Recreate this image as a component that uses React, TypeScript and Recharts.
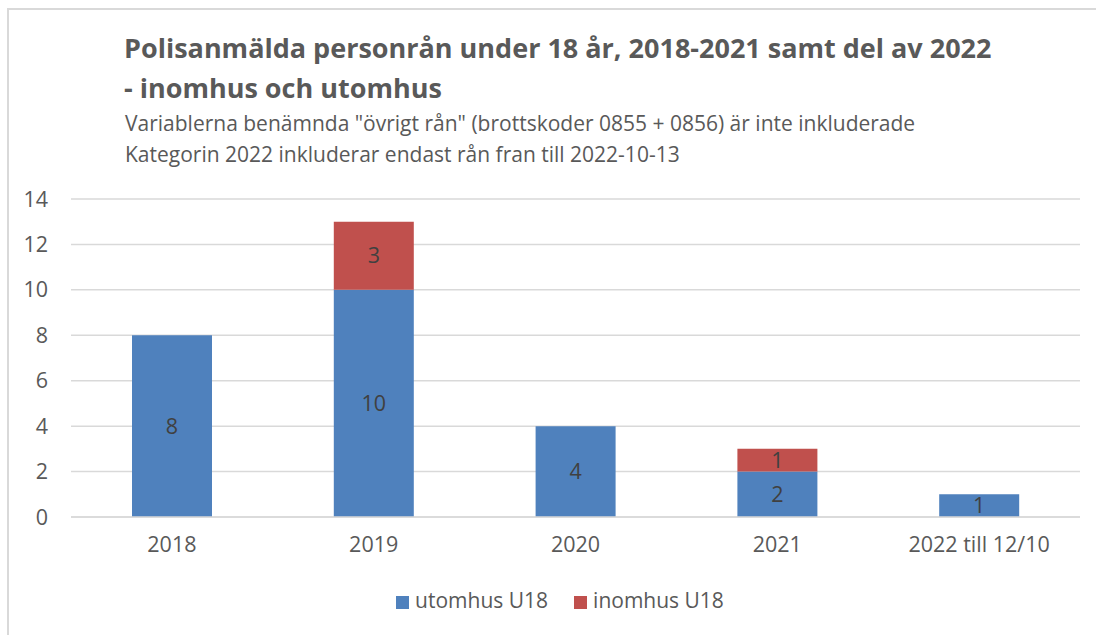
import { BarChart, Bar, XAxis, YAxis, CartesianGrid, Legend, LabelList } from 'recharts'

const kategorier = ['2018', '2019', '2020', '2021', '2022 till 12/10']
const utomhus = [8, 10, 4, 2, 1]
const inomhus = [0, 3, 0, 1, 0]
const yTicks = [0, 2, 4, 6, 8, 10, 12, 14]
const serieOrdning = ['utomhus U18', 'inomhus U18']

const data = kategorier.map((k, i) => ({
  kategori: k,
  utomhus: utomhus[i],
  inomhus: inomhus[i] || null,
}))

const FONT = '"Open Sans", Lato, sans-serif'
const TEXT = '#595959'
const FS = 21.5

export default function App() {
  return (
    <div
      style={{
        position: 'absolute',
        left: 0,
        top: 0,
        width: 1096,
        height: 635,
        background: '#fff',
        overflow: 'hidden',
        fontFamily: FONT,
      }}
    >
      {/* ram runt diagrammet */}
      <div
        style={{
          position: 'absolute',
          left: 7,
          top: 8,
          width: 1200,
          height: 700,
          borderLeft: '2px solid #d9d9d9',
          borderTop: '2px solid #d9d9d9',
        }}
      />
      <div
        style={{
          position: 'absolute',
          left: 124,
          top: 28,
          fontSize: 27,
          fontWeight: 700,
          color: TEXT,
          lineHeight: '40px',
          whiteSpace: 'nowrap',
        }}
      >
        <div>Polisanmälda personrån under 18 år, 2018-2021 samt del av 2022</div>
        <div>- inomhus och utomhus</div>
      </div>
      <div
        style={{
          position: 'absolute',
          left: 125,
          top: 108,
          fontSize: 21,
          color: TEXT,
          lineHeight: '31px',
          whiteSpace: 'nowrap',
        }}
      >
        <div>Variablerna benämnda "övrigt rån" (brottskoder 0855 + 0856) är inte inkluderade</div>
        <div>Kategorin 2022 inkluderar endast rån fran till 2022-10-13</div>
      </div>
      <div style={{ position: 'absolute', left: 0, top: 0 }}>
        <BarChart
          width={1096}
          height={635}
          data={data}
          barSize={80}
          margin={{ top: 199, right: 16, left: 11, bottom: 50 }}
        >
          <CartesianGrid vertical={false} stroke="#d9d9d9" strokeWidth={1.5} />
          <XAxis
            dataKey="kategori"
            axisLine={{ stroke: '#d9d9d9', strokeWidth: 1.5 }}
            tickLine={false}
            tickSize={0}
            tickMargin={20}
            tick={{ fontSize: FS, fill: TEXT, fontFamily: FONT }}
            height={40}
          />
          <YAxis
            domain={[0, 14]}
            ticks={yTicks}
            axisLine={false}
            tickLine={false}
            tickSize={0}
            tickMargin={23}
            width={60}
            tick={{ fontSize: FS, fill: TEXT, fontFamily: FONT }}
          />
          <Legend
            verticalAlign="bottom"
            iconType="square"
            iconSize={13}
            itemSorter={(item) => serieOrdning.indexOf(String(item.value))}
            wrapperStyle={{ top: 586, left: 0, width: 1146, fontSize: 21, fontFamily: FONT }}
            formatter={(v) => (
              <span style={{ color: TEXT, paddingLeft: 2, paddingRight: 16 }}>{v}</span>
            )}
          />
          <Bar dataKey="utomhus" name="utomhus U18" stackId="a" fill="#4f81bd" isAnimationActive={false}>
            <LabelList dataKey="utomhus" position="center" fill="#404040" fontSize={FS} fontFamily={FONT} />
          </Bar>
          <Bar dataKey="inomhus" name="inomhus U18" stackId="a" fill="#c0504d" isAnimationActive={false}>
            <LabelList dataKey="inomhus" position="center" fill="#404040" fontSize={FS} fontFamily={FONT} />
          </Bar>
        </BarChart>
      </div>
    </div>
  )
}
